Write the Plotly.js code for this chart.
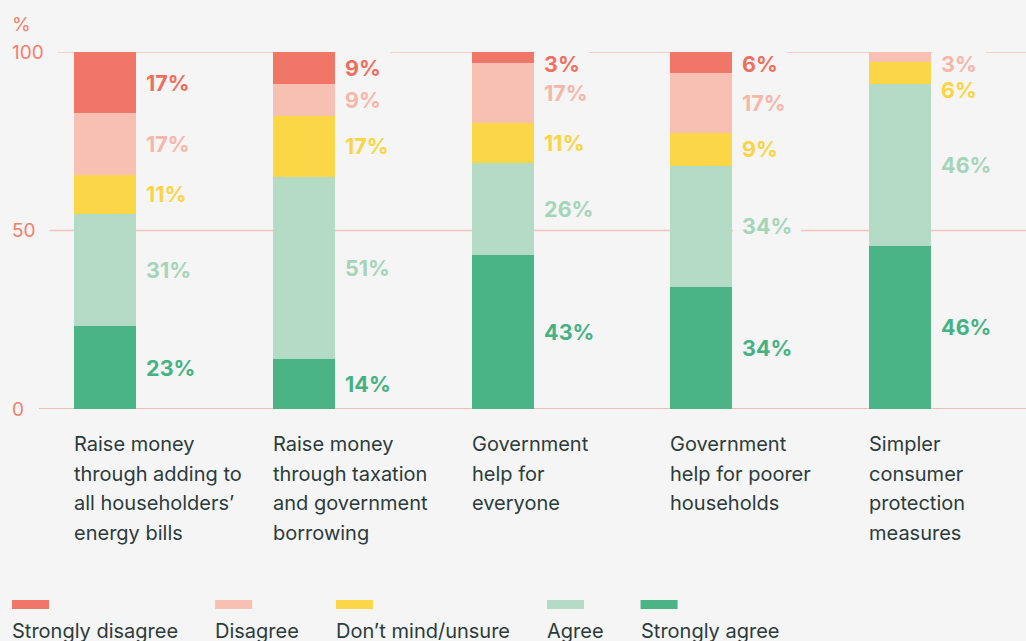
<!DOCTYPE html>
<html>
<head>
<meta charset="utf-8">
<script src="https://cdn.plot.ly/plotly-3.0.1.min.js"></script>
<style>
  html, body { margin: 0; padding: 0; background: #f4f5f4; }
  #chart { width: 1026px; height: 641px; }
</style>
</head>
<body>
<div id="chart"></div>
<script>
// Survey data: share of respondents (%) per answer
const categories = [
    'Raise money<br>through adding to<br>all householders’<br>energy bills',
    'Raise money<br>through taxation<br>and government<br>borrowing',
    'Government<br>help for<br>everyone',
    'Government<br>help for poorer<br>households',
    'Simpler<br>consumer<br>protection<br>measures'
];
const seriesNames = ['Strongly disagree', 'Disagree', 'Don’t mind/unsure', 'Agree', 'Strongly agree'];

const stronglyAgree    = [23.2, 14.0, 43.1, 34.2, 45.7];
const agree            = [31.5, 51.0, 25.8, 34.0, 45.4];
const dontMind         = [10.8, 17.2, 11.2, 9.0, 6.2];
const disagree         = [17.4, 8.9, 16.8, 17.0, 2.8];
const stronglyDisagree = [17.1, 9.0, 3.1, 5.9, 0];

const stronglyAgreeLabels    = ['23%', '14%', '43%', '34%', '46%'];
const agreeLabels            = ['31%', '51%', '26%', '34%', '46%'];
const dontMindLabels         = ['11%', '17%', '11%', '9%', '6%'];
const disagreeLabels         = ['17%', '9%', '17%', '17%', '3%'];
const stronglyDisagreeLabels = ['17%', '9%', '3%', '6%', ''];

const yTicks = [0, 50, 100];

// colours
const bg = '#f4f5f4';
const darkText = '#2c3b3b';
const salmon = '#f2806f';
const gridColor = '#f9c2b7';
const baseColor = '#eea99c';
const colors = {
    stronglyDisagree: '#f07767',
    disagree: '#f8c0b3',
    dontMind: '#fbd748',
    agree: '#b4dbc5',
    stronglyAgree: '#4ab487'
};
const labelColors = {
    stronglyDisagree: '#ef6f5f',
    disagree: '#f7b6a9',
    dontMind: '#fbd443',
    agree: '#a6d4b9',
    stronglyAgree: '#46b183'
};

const font = 'Inter, "Noto Sans", sans-serif';
const margin = { l: 12, r: 0, t: 52, b: 232 };
const plotW = 1026 - margin.l - margin.r;
const plotH = 641 - margin.t - margin.b;
const barWidth = 0.312;
const halfBarPx = 31;
const xIdx = categories.map((c, i) => i);

// stacked bottom to top
const stack = [
    { key: 'stronglyAgree', name: seriesNames[4], values: stronglyAgree, labels: stronglyAgreeLabels },
    { key: 'agree', name: seriesNames[3], values: agree, labels: agreeLabels },
    { key: 'dontMind', name: seriesNames[2], values: dontMind, labels: dontMindLabels },
    { key: 'disagree', name: seriesNames[1], values: disagree, labels: disagreeLabels },
    { key: 'stronglyDisagree', name: seriesNames[0], values: stronglyDisagree, labels: stronglyDisagreeLabels }
];

const traces = stack.map(s => ({
    type: 'bar',
    x: xIdx,
    y: s.values,
    name: s.name,
    width: barWidth,
    marker: { color: colors[s.key], line: { width: 0 } },
    hoverinfo: 'y+name'
}));

const annotations = [];
const shapes = [];
const nb = '\u00a0';

// value labels at the right of each bar, pushed apart when segments are thin
const pxPerUnit = plotH / 100;
const topLimit = 100 - 12 / pxPerUnit;
const minGap = 26 / pxPerUnit;
xIdx.forEach(i => {
    let base = 0;
    const centres = stack.map(s => {
        const c = base + s.values[i] / 2;
        base += s.values[i];
        return c;
    });
    let prev = null;
    for (let j = stack.length - 1; j >= 0; j--) {
        const s = stack[j];
        if (!s.labels[i]) continue;
        let y = centres[j];
        if (prev === null) y = Math.min(y, topLimit);
        else y = Math.min(y, prev - minGap);
        prev = y;
        annotations.push({
            xref: 'x', yref: 'y', x: i, y: y,
            xanchor: 'left', yanchor: 'middle',
            xshift: halfBarPx + 1,
            text: nb + s.labels[i] + nb,
            showarrow: false,
            bgcolor: bg, borderpad: 4, borderwidth: 0,
            font: { family: font, size: 21.5, color: labelColors[s.key], weight: 700 }
        });
    }
});

// gridlines and y tick labels
yTicks.forEach(t => {
    shapes.push({
        type: 'line', xref: 'paper', yref: 'y', x0: 0, x1: 1, y0: t, y1: t,
        layer: 'below',
        line: { color: t === 0 ? baseColor : gridColor, width: 1.5 }
    });
    annotations.push({
        xref: 'paper', yref: 'y', x: 0, y: t,
        xanchor: 'left', yanchor: 'middle', xshift: -4,
        text: String(t) + nb + nb,
        showarrow: false,
        bgcolor: bg, borderpad: 4, borderwidth: 0,
        font: { family: font, size: 19, color: salmon }
    });
});
annotations.push({
    xref: 'paper', yref: 'paper', x: 0, y: 1 + 28 / plotH,
    xanchor: 'left', yanchor: 'middle', xshift: -2,
    text: '%', showarrow: false,
    font: { family: font, size: 19, color: salmon }
});

// category labels, left aligned with the bar, one annotation per line
categories.forEach((c, i) => {
    c.split('<br>').forEach((line, k) => {
        annotations.push({
            xref: 'x', yref: 'paper', x: i, y: 0,
            xanchor: 'left', yanchor: 'middle',
            xshift: -halfBarPx - 2,
            yshift: -35 - k * 29.5,
            text: line, showarrow: false,
            font: { family: font, size: 20, color: darkText }
        });
    });
});

// legend: swatch above the name
const ctx = document.createElement('canvas').getContext('2d');
ctx.font = '20px Inter';
let offset = 0;
seriesNames.forEach(name => {
    const key = stack.find(s => s.name === name).key;
    shapes.push({
        type: 'rect', xref: 'paper', yref: 'paper',
        x0: offset / plotW, x1: (offset + 37) / plotW,
        y0: -(609 - 409) / plotH, y1: -(600 - 409) / plotH,
        fillcolor: colors[key], line: { width: 0 }
    });
    annotations.push({
        xref: 'paper', yref: 'paper', x: 0, y: 0,
        xanchor: 'left', yanchor: 'middle',
        xshift: offset - 2, yshift: -(631 - 409),
        text: name, showarrow: false,
        font: { family: font, size: 20, color: darkText }
    });
    offset += ctx.measureText(name).width + 37;
});

const layout = {
    width: 1026,
    height: 641,
    margin: margin,
    paper_bgcolor: bg,
    plot_bgcolor: bg,
    barmode: 'stack',
    showlegend: false,
    xaxis: { range: [-0.468, 4.634], visible: false, fixedrange: true },
    yaxis: { range: [0, 100], visible: false, fixedrange: true },
    shapes: shapes,
    annotations: annotations
};

Plotly.newPlot('chart', traces, layout, { displayModeBar: false, staticPlot: true });
</script>
</body>
</html>
